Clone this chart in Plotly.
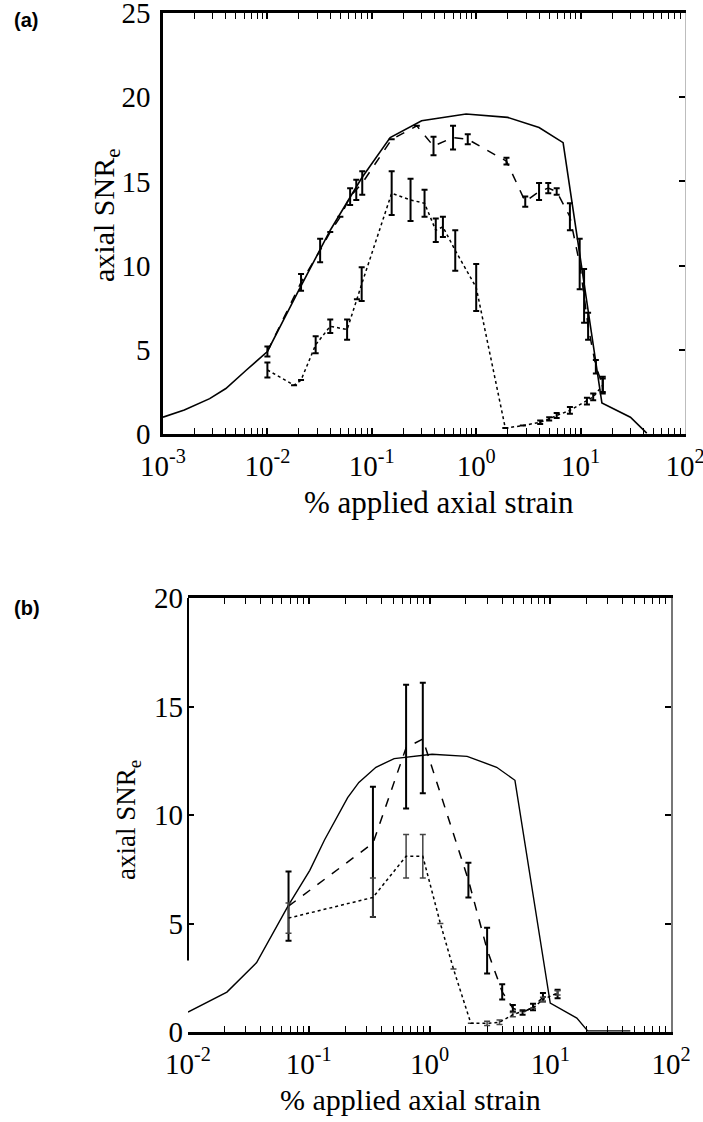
import plotly.graph_objects as go

# ---------------- Panel (a) data ----------------
a_theory_x = [0.001, 0.0016, 0.0028, 0.004, 0.0063, 0.01, 0.02, 0.04, 0.08, 0.15,
              0.3, 0.8, 2.0, 4.0, 6.8, 16.0, 30.0, 43.0]
a_theory_y = [1.0, 1.43, 2.1, 2.7, 3.8, 4.9, 8.55, 12.1, 15.2, 17.6,
              18.6, 19.0, 18.8, 18.2, 17.3, 1.84, 1.0, 0.05]

a_dash_x = [0.01, 0.021, 0.032, 0.04, 0.05, 0.062, 0.071, 0.081, 0.155, 0.27, 0.39, 0.6,
            0.83, 1.95, 2.95, 4.0, 4.9, 5.9, 7.9, 9.8, 10.8, 11.8, 14.0, 16.3]
a_dash_y = [4.9, 9.0, 10.9, 12.0, 12.9, 14.1, 14.5, 14.9, 17.5, 18.3, 17.1, 17.6,
            17.5, 16.2, 13.8, 14.4, 14.6, 14.4, 12.9, 10.1, 8.2, 6.4, 4.0, 2.9]
a_dash_err = [0.3, 0.5, 0.7, None, None, 0.5, 0.6, 0.7, None, None, 0.55, 0.7,
              0.3, 0.2, 0.3, 0.5, 0.3, 0.2, 0.8, 1.5, 1.6, 0.8, 0.4, 0.5]

a_dot_x = [0.01, 0.018, 0.021, 0.029, 0.04, 0.058, 0.072, 0.08, 0.155, 0.235, 0.32, 0.41,
           0.48, 0.63, 1.0, 1.9, 2.8, 4.1, 5.0, 5.9, 7.9, 11.5, 13.2, 16.3]
a_dot_y = [3.8, 2.9, 3.2, 5.3, 6.4, 6.2, 8.0, 8.9, 14.3, 13.9, 13.7, 12.1,
           12.3, 10.9, 8.7, 0.35, 0.5, 0.7, 0.9, 1.1, 1.4, 1.95, 2.2, 2.9]
a_dot_err = [0.45, None, None, 0.5, 0.4, 0.6, None, 1.0, 1.3, 1.25, 0.8, 0.7,
             0.6, 1.2, 1.4, None, None, 0.1, 0.1, 0.15, 0.2, 0.2, 0.2, 0.4]

# ---------------- Panel (b) data ----------------
b_theory_x = [0.01, 0.021, 0.037, 0.068, 0.102, 0.135, 0.21, 0.26, 0.36, 0.51,
              1.05, 2.05, 3.6, 5.1, 10.0, 16.6, 20.4, 46.0]
b_theory_y = [0.92, 1.84, 3.2, 5.85, 7.45, 8.85, 10.8, 11.5, 12.2, 12.6,
              12.8, 12.7, 12.2, 11.6, 1.33, 0.64, 0.05, 0.05]

b_dash_x = [0.068, 0.34, 0.64, 0.88, 2.1, 3.0, 4.0, 4.9, 5.9, 7.2, 8.7, 11.5]
b_dash_y = [5.8, 8.7, 13.1, 13.5, 7.0, 3.8, 1.85, 1.1, 0.9, 1.15, 1.6, 1.75]
b_dash_err_plus = [1.6, 2.6, 2.9, 2.6, 0.8, 1.0, 0.35, 0.15, 0.1, 0.15, 0.2, 0.2]
b_dash_err_minus = [1.6, 3.4, 2.8, 2.5, 0.8, 1.1, 0.35, 0.15, 0.1, 0.15, 0.2, 0.2]

b_dot_x = [0.068, 0.34, 0.64, 0.88, 1.23, 1.58, 2.2, 3.0, 3.8, 4.9, 5.9, 7.2, 8.7, 11.5]
b_dot_y = [5.25, 6.2, 8.1, 8.1, 5.0, 2.9, 0.4, 0.4, 0.45, 0.8, 0.95, 1.1, 1.5, 1.8]
b_dot_err = [0.7, 0.9, 1.0, 1.0, None, None, None, 0.1, 0.1, 0.1, None, None, 0.1, 0.1]

# ---------------- Ticks / labels ----------------
a_xtick_vals = [0.001, 0.01, 0.1, 1, 10, 100]
a_xtick_text = ["10<sup>-3</sup>", "10<sup>-2</sup>", "10<sup>-1</sup>",
                "10<sup>0</sup>", "10<sup>1</sup>", "10<sup>2</sup>"]
b_xtick_vals = [0.01, 0.1, 1, 10, 100]
b_xtick_text = ["10<sup>-2</sup>", "10<sup>-1</sup>", "10<sup>0</sup>",
                "10<sup>1</sup>", "10<sup>2</sup>"]
a_ytick_vals = [0, 5, 10, 15, 20, 25]
b_ytick_vals = [0, 5, 10, 15, 20]
x_title = "% applied axial strain"
y_title = "axial SNR<sub>e</sub>"


def minor_vals(lo, hi):
    out = []
    for e in range(lo, hi):
        for k in range(2, 10):
            out.append(k * 10.0 ** e)
    return out


SERIF = "Liberation Serif, Times New Roman, serif"
fig = go.Figure()

err_style = dict(type="data", color="black", thickness=2, width=3, visible=True)

# Panel (a) traces
fig.add_trace(go.Scatter(x=a_theory_x, y=a_theory_y, mode="lines",
                         line=dict(color="black", width=1.6), xaxis="x", yaxis="y",
                         showlegend=False))
fig.add_trace(go.Scatter(x=a_dash_x, y=a_dash_y, mode="lines",
                         line=dict(color="black", width=1.5, dash="dash"),
                         error_y=dict(array=a_dash_err, **err_style),
                         xaxis="x", yaxis="y", showlegend=False))
fig.add_trace(go.Scatter(x=a_dot_x, y=a_dot_y, mode="lines",
                         line=dict(color="black", width=1.5, dash="dot"),
                         error_y=dict(array=a_dot_err, **err_style),
                         xaxis="x", yaxis="y", showlegend=False))
fig.add_trace(go.Scatter(x=[None], y=[None], xaxis="x", yaxis="y3", showlegend=False))

# Panel (b) traces
fig.add_trace(go.Scatter(x=b_theory_x, y=b_theory_y, mode="lines",
                         line=dict(color="black", width=1.4), xaxis="x2", yaxis="y2",
                         showlegend=False))
fig.add_trace(go.Scatter(x=b_dash_x, y=b_dash_y, mode="lines",
                         line=dict(color="black", width=1.5, dash="dash"),
                         error_y=dict(array=b_dash_err_plus, arrayminus=b_dash_err_minus,
                                      symmetric=False, **err_style),
                         xaxis="x2", yaxis="y2", showlegend=False))
fig.add_trace(go.Scatter(x=b_dot_x, y=b_dot_y, mode="lines",
                         line=dict(color="black", width=1.5, dash="dot"),
                         error_y=dict(array=b_dot_err, type="data", color="#444",
                                      thickness=1.5, width=3),
                         xaxis="x2", yaxis="y2", showlegend=False))
fig.add_trace(go.Scatter(x=[None], y=[None], xaxis="x2", yaxis="y4", showlegend=False))

tickfont = dict(family=SERIF, size=29, color="black")

common_x = dict(type="log", showgrid=False, zeroline=False, showline=True,
                linecolor="black", linewidth=2.5, ticks="inside", ticklen=6,
                tickcolor="black", tickwidth=1.5, mirror="allticks",
                tickfont=tickfont, ticklabelstandoff=4, ticklabeloverflow="allow")

fig.update_layout(
    width=703, height=1122, autosize=False,
    margin=dict(l=0, r=0, t=0, b=0),
    paper_bgcolor="white", plot_bgcolor="white",
    template="none",
    xaxis=dict(domain=[163 / 703, 685 / 703], anchor="y", range=[-3, 2],
               tickvals=a_xtick_vals, ticktext=a_xtick_text,
               minor=dict(tickvals=minor_vals(-3, 2), ticks="inside", ticklen=4,
                          tickcolor="black", tickwidth=1),
               **common_x),
    yaxis=dict(domain=[(1122 - 434) / 1122, (1122 - 13) / 1122], anchor="x",
               range=[0, 25], tickvals=a_ytick_vals, showgrid=False, zeroline=False,
               showline=True, linecolor="black", linewidth=2.5, ticks="",
               tickfont=tickfont, ticklabelstandoff=4, ticklabeloverflow="allow"),
    yaxis3=dict(overlaying="y", anchor="x", side="right", range=[0, 25],
                tickvals=[5, 10, 15, 20], showticklabels=False, showgrid=False,
                zeroline=False, showline=True, linecolor="#bdbdbd", linewidth=1.2,
                ticks="inside", ticklen=6, tickcolor="black", tickwidth=1.5),
    xaxis2=dict(domain=[188 / 703, 671 / 703], anchor="y2", range=[-2, 2],
                tickvals=b_xtick_vals, ticktext=b_xtick_text,
                minor=dict(tickvals=minor_vals(-2, 2), ticks="inside", ticklen=4,
                           tickcolor="black", tickwidth=1),
                **common_x),
    yaxis2=dict(domain=[(1122 - 1032) / 1122, (1122 - 598) / 1122], anchor="x2",
                range=[0, 20], tickvals=b_ytick_vals, showgrid=False, zeroline=False,
                showline=False, ticks="inside", ticklen=6, tickcolor="black",
                tickwidth=1.5, tickfont=tickfont, ticklabelstandoff=4,
                ticklabeloverflow="allow"),
    yaxis4=dict(overlaying="y2", anchor="x2", side="right", range=[0, 20],
                tickvals=[5, 10, 15], showticklabels=False, showgrid=False,
                zeroline=False, showline=True, linecolor="#777777", linewidth=2,
                ticks="inside", ticklen=6, tickcolor="black", tickwidth=1.5),
)

# partial left axis line of panel (b)
fig.add_shape(type="line", xref="x2 domain", yref="y2", x0=0, x1=0, y0=3.3, y1=20,
              line=dict(color="black", width=2))

annots = [
    dict(text="<b>(a)</b>", x=12 / 703, y=1 - 7 / 1122, xanchor="left", yanchor="top",
         font=dict(family="Liberation Sans, Arial, sans-serif", size=20, color="black")),
    dict(text="<b>(b)</b>", x=12 / 703, y=1 - 595 / 1122, xanchor="left", yanchor="top",
         font=dict(family="Liberation Sans, Arial, sans-serif", size=20, color="black")),
    dict(text=x_title, x=439 / 703, y=1 - 503 / 1122, xanchor="center", yanchor="middle",
         font=dict(family=SERIF, size=31, color="black")),
    dict(text=x_title, x=410 / 703, y=1 - 1099 / 1122, xanchor="center", yanchor="middle",
         font=dict(family=SERIF, size=30, color="black")),
    dict(text=y_title, x=106 / 703, y=1 - 215 / 1122, xanchor="center", yanchor="middle",
         textangle=-90, font=dict(family=SERIF, size=30, color="black")),
    dict(text=y_title, x=128 / 703, y=1 - 820 / 1122, xanchor="center", yanchor="middle",
         textangle=-90, font=dict(family=SERIF, size=27, color="black")),
]
for a in annots:
    fig.add_annotation(xref="paper", yref="paper", showarrow=False, **a)

fig.write_html("out.html")
